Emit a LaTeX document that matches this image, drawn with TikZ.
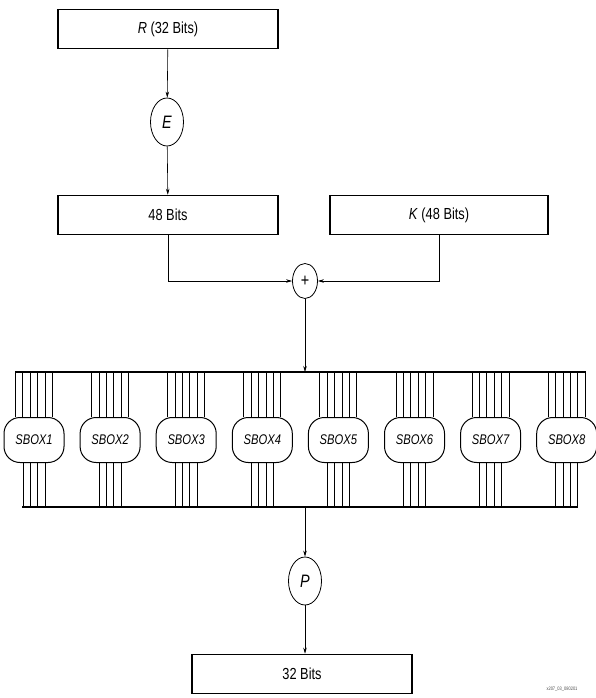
\documentclass[tikz,border=0pt]{standalone}
\usepackage{fontspec}
\newfontfamily\cond{Liberation Sans}[FakeStretch=0.8]
\usetikzlibrary{shapes.geometric,arrows.meta}
\tikzset{
  bitbox/.style={draw,line width=1.6pt,minimum width=220pt,minimum height=39pt,inner sep=0pt,font=\cond\fontsize{16}{18}\selectfont},
  oper/.style={draw,ellipse,line width=0.8pt,inner sep=0pt,minimum width=33pt,minimum height=48pt,font=\cond\itshape\fontsize{18}{20}\selectfont},
  sbox/.style={draw,rounded corners=16pt,line width=1pt,minimum width=60pt,minimum height=45pt,inner sep=0pt,font=\cond\itshape\fontsize{14}{16}\selectfont,fill=white},
  conn/.style={line width=0.6pt,-{Stealth[length=6pt,width=3.5pt]}},
  wire/.style={line width=0.9pt},
  frame/.style={line width=2pt}
}
\begin{document}
\begin{tikzpicture}[x=1pt,y=-1pt]
\useasboundingbox (0,0) rectangle (596,698);
\node[bitbox] (R) at (168,29) {\textit{R} (32 Bits)};
\node[oper] (E) at (167,122) {E};
\node[bitbox] (B48) at (168,215) {48 Bits};
\node[bitbox,minimum width=218pt] (K) at (439,215) {\textit{K} (48 Bits)};
\node[oper,minimum width=25pt,minimum height=35pt,font=\cond\fontsize{18}{20}\selectfont] (plus) at (305,281) {+};
\coordinate (ftop) at (305,372);
\coordinate (fbot) at (305,507);
\coordinate (tl) at (15,372);
\coordinate (tr) at (586,372);
\coordinate (bl) at (22,507);
\coordinate (br) at (578,507);
\foreach \i in {1,...,8}{
  \pgfmathsetmacro{\cx}{34+76.1*(\i-1)}
  \node[sbox] (s\i) at (\cx,440) {SBOX\i};
  \foreach \d in {-18.5,-11.1,-3.7,3.7,11.1,18.5}{
    \draw[wire] ([xshift=\d pt]s\i.north) -- ([xshift=\d pt]s\i.north |- ftop);
  }
  \foreach \d in {-11,-3.7,3.7,11}{
    \draw[wire] ([xshift=\d pt]s\i.south) -- ([xshift=\d pt]s\i.south |- fbot);
  }
}
\draw[frame] (tl) -- (tr);
\draw[frame] (bl) -- (br);
\node[oper] (P) at (305,581) {P};
\node[bitbox] (B32) at (302,674) {32 Bits};
\node[font=\cond\fontsize{5}{6}\selectfont,text=black!70] (lbl) at (562,689) {x207\_03\_080201};
\draw[conn] (R) -- (E);
\draw[conn] (E) -- (B48);
\draw[conn] (B48.south) |- (plus.west);
\draw[conn] (K.south) |- (plus.east);
\draw[conn] (plus) -- (ftop);
\draw[conn] (fbot) -- (P);
\draw[conn] (P) -- (B32.north -| P);
\end{tikzpicture}
\end{document}
